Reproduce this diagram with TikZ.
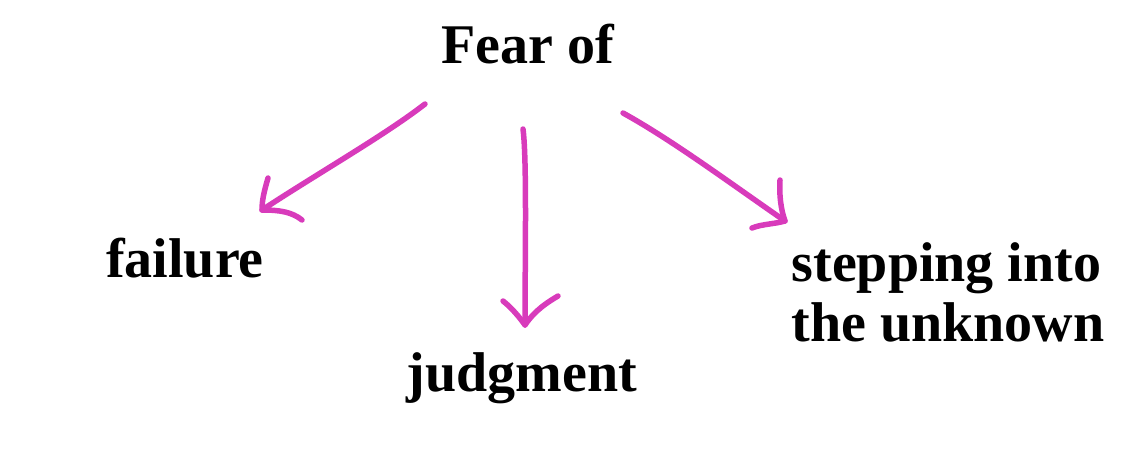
\documentclass[tikz,border=0pt]{standalone}
\usepackage{fontspec}
\setmainfont{Liberation Serif}
\definecolor{pinkarrow}{HTML}{D83BBB}
\begin{document}
\begin{tikzpicture}[x=1pt,y=-1pt,
  lbl/.style={font=\bfseries\fontsize{56}{60}\selectfont, inner sep=0pt, align=left},
  stroke/.style={draw=pinkarrow, line width=5.5pt, line cap=round, line join=round}]
\useasboundingbox (0,0) rectangle (1141,450);
\node[lbl] (fear) at (528,44) {Fear of};
\node[lbl] (failure) at (185,258) {failure};
\node[lbl] (judgment) at (522,378) {judgment};
\node[lbl, align=left] (unknown) at (948,292) {stepping into\\the unknown};
% left arrow
\coordinate (a1s) at (425,104);
\coordinate (a1t) at (262,210);
\draw[stroke] (a1s) .. controls (385,135) and (320,172) .. (a1t);
\draw[stroke] (268,178) .. controls (264,192) and (262,200) .. (a1t) .. controls (280,210) and (292,212) .. (302,220);
% middle arrow
\coordinate (a2s) at (523,129);
\coordinate (a2t) at (525,325);
\draw[stroke] (a2s) .. controls (527,160) and (525,260) .. (a2t);
\draw[stroke] (503,301) .. controls (512,308) and (520,318) .. (a2t) .. controls (535,310) and (548,302) .. (558,296);
% right arrow
\coordinate (a3s) at (623,113);
\coordinate (a3t) at (785,221);
\draw[stroke] (a3s) .. controls (672,140) and (730,183) .. (a3t);
\draw[stroke] (780,180) .. controls (779,195) and (781,210) .. (a3t) .. controls (775,224) and (762,224) .. (752,228);
\end{tikzpicture}
\end{document}
